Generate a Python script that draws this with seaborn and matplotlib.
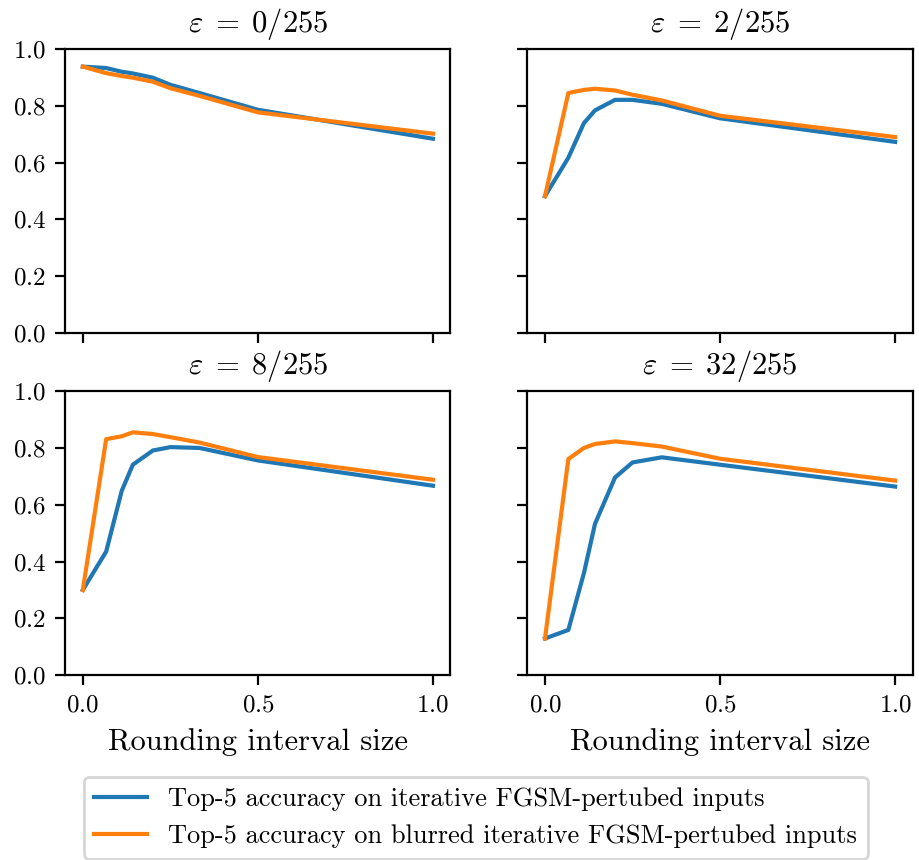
import numpy as np
import pandas as pd
import matplotlib
matplotlib.use("Agg")
import matplotlib.pyplot as plt
import seaborn as sns

plt.rcParams['font.family'] = 'serif'
plt.rcParams['font.serif'] = ['cmr10']
plt.rcParams['mathtext.fontset'] = 'cm'
plt.rcParams['axes.formatter.use_mathtext'] = True

# rounding interval sizes
interval = [0, 1/15, 1/9, 1/7, 1/5, 1/4, 1/3, 1/2, 1]
eps_labels = ['0/255', '2/255', '8/255', '32/255']

# top-5 accuracy, iterative FGSM
acc_fgsm = {
    '0/255':  [0.938, 0.933, 0.920, 0.914, 0.899, 0.874, 0.845, 0.786, 0.684],
    '2/255':  [0.482, 0.617, 0.739, 0.784, 0.821, 0.821, 0.807, 0.756, 0.673],
    '8/255':  [0.300, 0.435, 0.649, 0.741, 0.791, 0.803, 0.800, 0.756, 0.667],
    '32/255': [0.129, 0.159, 0.359, 0.533, 0.696, 0.749, 0.767, 0.741, 0.664],
}
# top-5 accuracy, blurred iterative FGSM
acc_blur = {
    '0/255':  [0.938, 0.915, 0.905, 0.899, 0.885, 0.862, 0.835, 0.777, 0.702],
    '2/255':  [0.482, 0.845, 0.856, 0.860, 0.854, 0.839, 0.819, 0.765, 0.690],
    '8/255':  [0.300, 0.831, 0.841, 0.855, 0.849, 0.838, 0.819, 0.768, 0.688],
    '32/255': [0.129, 0.761, 0.800, 0.814, 0.823, 0.817, 0.805, 0.762, 0.685],
}

series_names = ['Top-5 accuracy on iterative FGSM-pertubed inputs',
                'Top-5 accuracy on blurred iterative FGSM-pertubed inputs']

rows = []
for eps in eps_labels:
    for name, src in zip(series_names, [acc_fgsm, acc_blur]):
        for x, y in zip(interval, src[eps]):
            rows.append({'eps': eps, 'series': name, 'interval': x, 'acc': y})
df = pd.DataFrame(rows)

fig, axes = plt.subplots(2, 2, figsize=(4.6, 4.3), dpi=200, sharex=True, sharey=True)
plt.subplots_adjust(left=0.071, right=0.992, top=0.943, bottom=0.215, wspace=0.2, hspace=0.205)

for ax, eps in zip(axes.flat, eps_labels):
    sns.lineplot(data=df[df['eps'] == eps], x='interval', y='acc', hue='series',
                 hue_order=series_names, palette=['tab:blue', 'tab:orange'],
                 ax=ax, legend=False, linewidth=1.5)
    ax.set_title(r'$\varepsilon\;=\;%s$' % eps, fontsize=11)
    ax.set_ylim(0, 1.0)
    ax.set_xticks([0, 0.5, 1.0])
    ax.set_yticks([0, 0.2, 0.4, 0.6, 0.8, 1.0])
    ax.tick_params(labelsize=9)
    ax.set_xlabel('')
    ax.set_ylabel('')

for ax in axes[1]:
    ax.set_xlabel('Rounding interval size', fontsize=11)

handles = axes[0, 0].get_lines()[:2]
fig.legend(handles, series_names, loc='lower center', bbox_to_anchor=(0.517, 0.0),
           fontsize=9.5, ncol=1, borderaxespad=0.05)

fig.savefig('out.png', dpi=200)
